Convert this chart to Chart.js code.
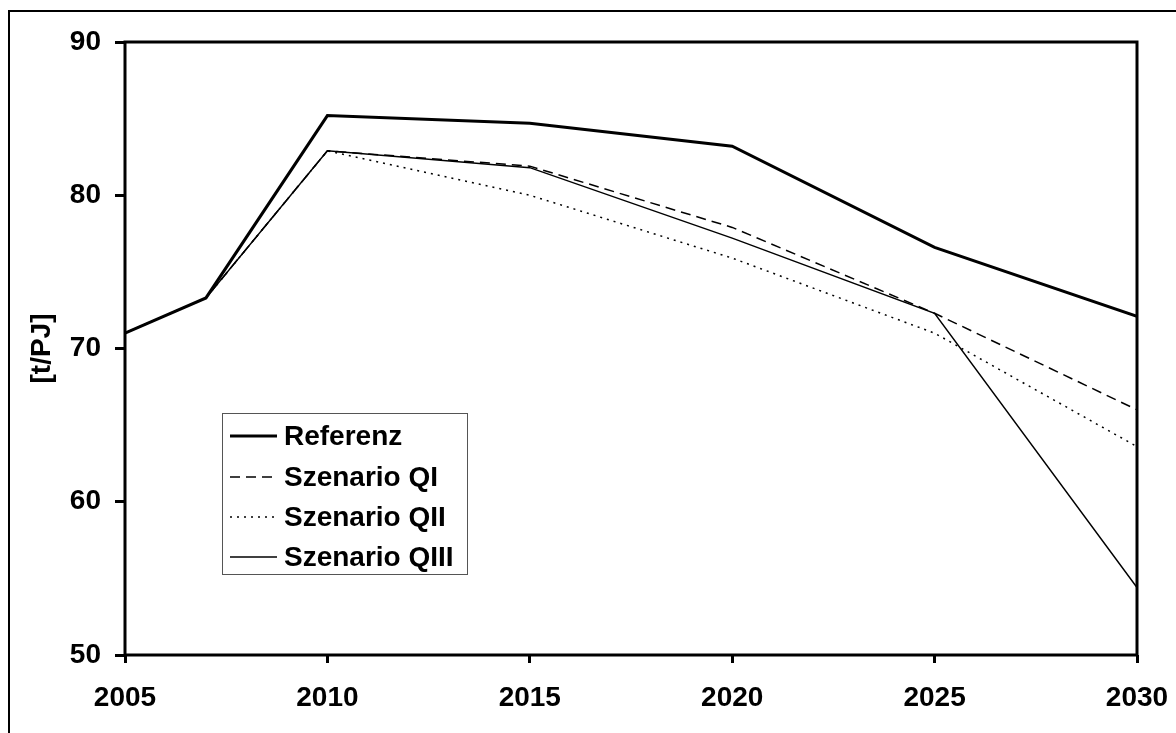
<!DOCTYPE html>
<html>
<head>
<meta charset="utf-8">
<script src="https://cdn.jsdelivr.net/npm/chart.js@4.4.1/dist/chart.umd.min.js"></script>
<style>
  html, body { margin: 0; padding: 0; background: #fff; }
  #wrap { width: 1176px; height: 733px; }
</style>
</head>
<body>
<div id="wrap"><canvas id="emChart" width="1176" height="733"></canvas></div>
<script>
// DATA
const years = [2005, 2007, 2010, 2015, 2020, 2025, 2030];
const referenz = [71.0, 73.3, 85.2, 84.7, 83.2, 76.6, 72.1];
const szenarioQI = [71.0, 73.3, 82.9, 81.9, 77.9, 72.3, 66.0];
const szenarioQII = [71.0, 73.3, 82.9, 80.0, 75.9, 71.0, 63.6];
const szenarioQIII = [71.0, 73.3, 82.9, 81.8, 77.2, 72.3, 54.4];
const yTicks = [50, 60, 70, 80, 90];
const yTitle = '[t/PJ]';

const FONT = "'Liberation Sans', Arial, sans-serif";
const toPoints = vals => vals.map((v, i) => ({ x: years[i], y: v }));

// frame, outer border and in-plot legend
const framePlugin = {
    id: 'frame',
    afterDraw(chart) {
        const c = chart.ctx;
        const a = chart.chartArea;
        c.save();
        c.strokeStyle = '#000';
        c.lineWidth = 3;
        c.strokeRect(a.left, a.top, a.right - a.left, a.bottom - a.top);

        c.lineWidth = 2;
        c.strokeRect(9, 11, 1300, 900);

        // legend box
        const bx = 222.5, by = 413.5, bw = 245, bh = 161;
        c.lineWidth = 1;
        c.strokeStyle = '#555';
        c.strokeRect(bx, by, bw, bh);
        const rows = [436, 477, 517, 557];
        c.font = 'bold 28px ' + FONT;
        c.textBaseline = 'middle';
        c.fillStyle = '#000';
        chart.data.datasets.forEach((ds, i) => {
            c.beginPath();
            c.strokeStyle = '#000';
            c.lineWidth = ds.borderWidth;
            c.setLineDash(ds.borderDash || []);
            c.moveTo(230, rows[i]);
            c.lineTo(277, rows[i]);
            c.stroke();
            c.setLineDash([]);
            c.fillText(ds.label, 284, rows[i] + 1);
        });
        c.restore();
    }
};

const ctx = document.getElementById('emChart').getContext('2d');
const emChart = new Chart(ctx, {
    type: 'line',
    data: {
        datasets: [
            { label: 'Referenz', data: toPoints(referenz), borderColor: '#000', borderWidth: 3 },
            { label: 'Szenario QI', data: toPoints(szenarioQI), borderColor: '#000', borderWidth: 1.5, borderDash: [10, 6] },
            { label: 'Szenario QII', data: toPoints(szenarioQII), borderColor: '#000', borderWidth: 1.5, borderDash: [2, 5] },
            { label: 'Szenario QIII', data: toPoints(szenarioQIII), borderColor: '#000', borderWidth: 1.5 }
        ]
    },
    options: {
        responsive: false,
        animation: false,
        devicePixelRatio: 1,
        layout: { padding: { top: 42, right: 39, left: 0, bottom: 0 } },
        elements: { point: { radius: 0 }, line: { tension: 0 } },
        scales: {
            x: {
                type: 'linear',
                min: 2005,
                max: 2030,
                afterFit: s => { s.height = 78; s.paddingLeft = 0; s.paddingRight = 0; },
                border: { display: false },
                grid: { drawOnChartArea: false, tickLength: 8, tickWidth: 3, tickColor: '#000' },
                ticks: {
                    stepSize: 5,
                    color: '#000',
                    padding: 18,
                    maxRotation: 0,
                    font: { family: FONT, size: 28, weight: 'bold' },
                    callback: v => String(v)
                }
            },
            y: {
                min: yTicks[0],
                max: yTicks[yTicks.length - 1],
                afterFit: s => { s.width = 125; s.paddingTop = 0; s.paddingBottom = 0; },
                afterBuildTicks: s => { s.ticks = yTicks.map(v => ({ value: v })); },
                border: { display: false },
                grid: { drawOnChartArea: false, tickLength: 10, tickWidth: 3, tickColor: '#000' },
                title: {
                    display: true,
                    text: yTitle,
                    color: '#000',
                    padding: { top: 25, bottom: 0 },
                    font: { family: FONT, size: 28, weight: 'bold' }
                },
                ticks: {
                    color: '#000',
                    padding: 14,
                    font: { family: FONT, size: 28, weight: 'bold' }
                }
            }
        },
        plugins: {
            legend: { display: false },
            tooltip: { enabled: false }
        }
    },
    plugins: [framePlugin]
});
</script>
</body>
</html>
